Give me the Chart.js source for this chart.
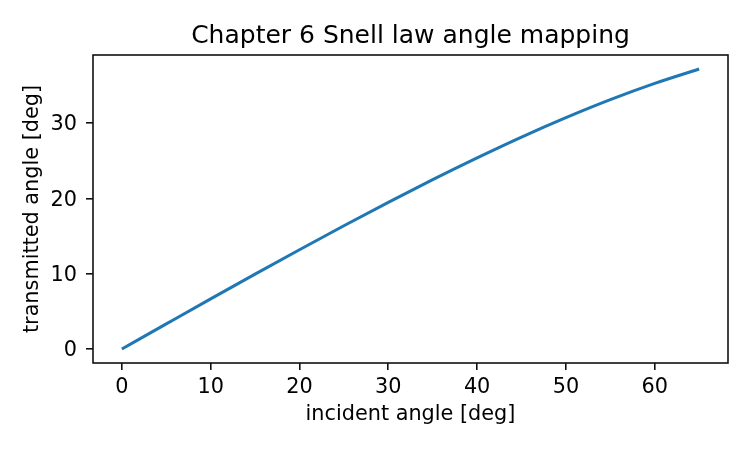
<!DOCTYPE html>
<html>
<head>
<meta charset="utf-8">
<script src="https://cdn.jsdelivr.net/npm/chart.js@4.4.0/dist/chart.umd.min.js"></script>
<style>
html,body{margin:0;padding:0;background:#fff;}
canvas{display:block;}
</style>
</head>
<body>
<canvas id="c" width="750" height="450" style="width:750px;height:450px"></canvas>
<script>
// Data
const incidentDeg = [0, 5, 10, 15, 20, 25, 30, 35, 40, 45, 50, 55, 60, 65];
const transmittedDeg = [0, 3.33, 6.65, 9.94, 13.18, 16.36, 19.47, 22.48, 25.37, 28.13, 30.71, 33.10, 35.26, 37.17];
const xTicks = [0, 10, 20, 30, 40, 50, 60];
const yTicks = [0, 10, 20, 30];
const titleText = 'Chapter 6 Snell law angle mapping';
const xLabel = 'incident angle [deg]';
const yLabel = 'transmitted angle [deg]';

const FONT = 'DejaVu Sans';
const points = incidentDeg.map((x, i) => ({x: x, y: transmittedDeg[i]}));

const frameAndText = {
  id: 'frameAndText',
  afterDraw(chart) {
    const {ctx, chartArea: a} = chart;
    ctx.save();
    ctx.strokeStyle = '#111';
    ctx.lineWidth = 1.6;
    ctx.strokeRect(a.left, a.top, a.right - a.left, a.bottom - a.top);
    ctx.fillStyle = '#000';
    ctx.textAlign = 'center';
    ctx.textBaseline = 'middle';
    ctx.font = '25px "' + FONT + '"';
    ctx.fillText(titleText, (a.left + a.right) / 2, 36);
    ctx.font = '20.8px "' + FONT + '"';
    ctx.fillText(xLabel, (a.left + a.right) / 2, 415);
    ctx.translate(33, (a.top + a.bottom) / 2);
    ctx.rotate(-Math.PI / 2);
    ctx.fillText(yLabel, 0, 0);
    ctx.restore();
  }
};

new Chart(document.getElementById('c'), {
  type: 'line',
  data: {
    datasets: [{
      data: points,
      borderColor: '#1f77b4',
      borderWidth: 3,
      pointRadius: 0,
      fill: false,
      cubicInterpolationMode: 'monotone'
    }]
  },
  options: {
    responsive: false,
    animation: false,
    devicePixelRatio: 1,
    layout: {padding: {top: 55, right: 22, left: 0, bottom: 0}},
    plugins: {legend: {display: false}, tooltip: {enabled: false}, title: {display: false}},
    scales: {
      x: {
        type: 'linear',
        min: -3.25,
        max: 68.25,
        afterBuildTicks: s => { s.ticks = xTicks.map(v => ({value: v})); },
        afterFit: s => { s.height = 87; },
        grid: {drawOnChartArea: false, drawTicks: true, tickLength: 7, color: '#111', lineWidth: 1.6},
        border: {display: false},
        ticks: {color: '#000', font: {family: FONT, size: 20.8}, padding: 5, maxRotation: 0}
      },
      y: {
        type: 'linear',
        min: -1.86,
        max: 39.03,
        afterBuildTicks: s => { s.ticks = yTicks.map(v => ({value: v})); },
        afterFit: s => { s.width = 93; },
        grid: {drawOnChartArea: false, drawTicks: true, tickLength: 7, color: '#111', lineWidth: 1.6},
        border: {display: false},
        ticks: {color: '#000', font: {family: FONT, size: 20.8}, padding: 9, labelOffset: 2}
      }
    }
  },
  plugins: [frameAndText]
});
</script>
</body>
</html>
